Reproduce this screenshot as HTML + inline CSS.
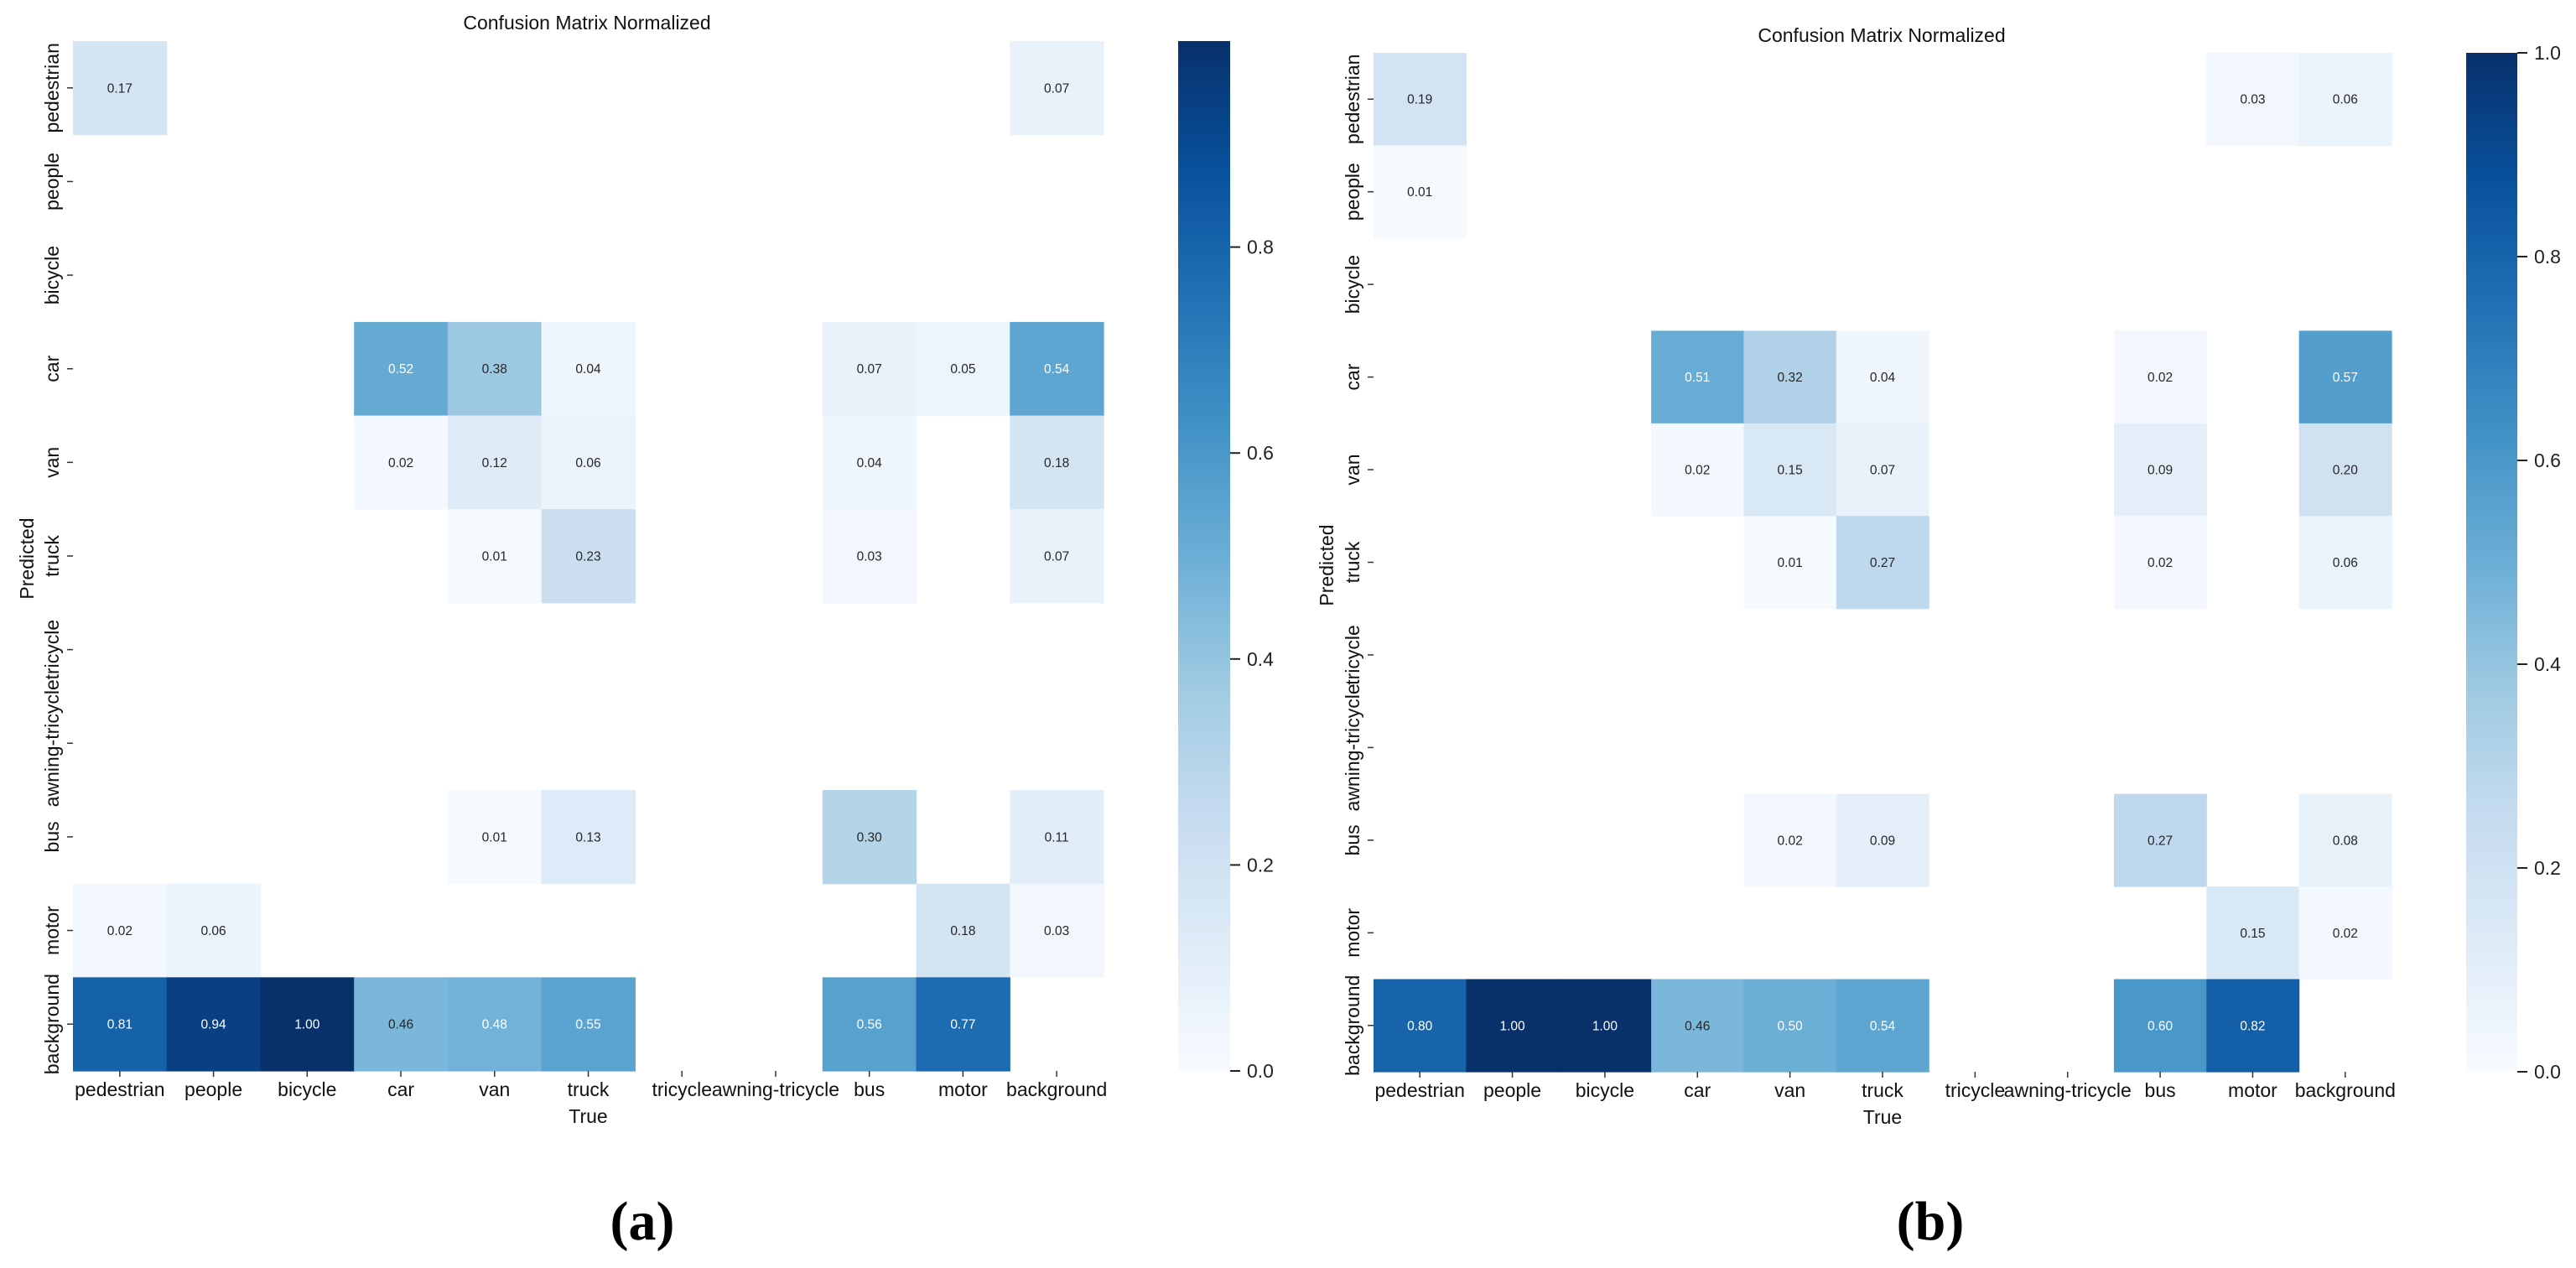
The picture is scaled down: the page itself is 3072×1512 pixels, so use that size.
<!DOCTYPE html>
<html><head><meta charset="utf-8"><style>
html,body{margin:0;padding:0;background:#fff;}
svg{display:block;font-family:"Liberation Sans",sans-serif;}
</style></head><body>
<svg id="fig" width="3072" height="1512" viewBox="0 0 3072 1512"></svg>
<script>
const classes = ["pedestrian","people","bicycle","car","van","truck","tricycle","awning-tricycle","bus","motor","background"];
const matrixA = [
 [0.17,0,0,0,0,0,0,0,0,0,0.07],
 [0,0,0,0,0,0,0,0,0,0,0],
 [0,0,0,0,0,0,0,0,0,0,0],
 [0,0,0,0.52,0.38,0.04,0,0,0.07,0.05,0.54],
 [0,0,0,0.02,0.12,0.06,0,0,0.04,0,0.18],
 [0,0,0,0,0.01,0.23,0,0,0.03,0,0.07],
 [0,0,0,0,0,0,0,0,0,0,0],
 [0,0,0,0,0,0,0,0,0,0,0],
 [0,0,0,0,0.01,0.13,0,0,0.30,0,0.11],
 [0.02,0.06,0,0,0,0,0,0,0,0.18,0.03],
 [0.81,0.94,1.00,0.46,0.48,0.55,0,0,0.56,0.77,0]
];
const matrixB = [
 [0.19,0,0,0,0,0,0,0,0,0.03,0.06],
 [0.01,0,0,0,0,0,0,0,0,0,0],
 [0,0,0,0,0,0,0,0,0,0,0],
 [0,0,0,0.51,0.32,0.04,0,0,0.02,0,0.57],
 [0,0,0,0.02,0.15,0.07,0,0,0.09,0,0.20],
 [0,0,0,0,0.01,0.27,0,0,0.02,0,0.06],
 [0,0,0,0,0,0,0,0,0,0,0],
 [0,0,0,0,0,0,0,0,0,0,0],
 [0,0,0,0,0.02,0.09,0,0,0.27,0,0.08],
 [0,0,0,0,0,0,0,0,0,0.15,0.02],
 [0.80,1.00,1.00,0.46,0.50,0.54,0,0,0.60,0.82,0]
];
const ticksA = [0,0.2,0.4,0.6,0.8];
const ticksB = [0,0.2,0.4,0.6,0.8,1.0];

const blues = ["#f7fbff","#deebf7","#c6dbef","#9ecae1","#6baed6","#4292c6","#2171b5","#08519c","#08306b"];
function hex(c){return [parseInt(c.slice(1,3),16),parseInt(c.slice(3,5),16),parseInt(c.slice(5,7),16)];}
function cmap(v){
  v=Math.max(0,Math.min(1,v));const p=v*8;const i=Math.min(7,Math.floor(p));const f=p-i;
  const a=hex(blues[i]),b=hex(blues[i+1]);
  return "rgb("+a.map((x,k)=>Math.round(x+(b[k]-x)*f)).join(",")+")";
}
const NS="http://www.w3.org/2000/svg";
const svg=document.getElementById("fig");
function el(tag,attrs,parent,text){const e=document.createElementNS(NS,tag);for(const k in attrs)e.setAttribute(k,attrs[k]);if(text!==undefined)e.textContent=text;(parent||svg).appendChild(e);return e;}

function drawPanel(p){
  const g=el("g",{});
  
  
  const n=classes.length, cw=(p.x1-p.x0)/n, ch=(p.y1-p.y0)/n;
  const xs=i=>p.x0+i*cw, ys=j=>p.y0+j*ch;
  p.data.forEach((row,r)=>row.forEach((v,c)=>{
    if(v<0.005) return;
    const rect=el("rect",{x:xs(c),y:ys(r),width:cw+0.6,height:ch+0.6,fill:cmap(v)},g);
    
    
    const t=el("text",{x:xs(c)+cw/2,y:ys(r)+ch/2+5.5,"text-anchor":"middle","font-size":"15.5",fill:v>=0.47?"#fff":"#262626"},g,v.toFixed(2));
    
    
  }));
  classes.forEach((c,i)=>{
    const cx=xs(i)+cw/2;
    el("line",{x1:cx,x2:cx,y1:p.y1,y2:p.y1+7,stroke:"#333","stroke-width":1.5},g);
    const t=el("text",{x:cx,y:p.y1+30,"text-anchor":"middle","font-size":"23",fill:"#111"},g,c);
    
    
    const cy=ys(i)+ch/2;
    el("line",{x1:p.x0-7,x2:p.x0,y1:cy,y2:cy,stroke:"#333","stroke-width":1.5},g);
    const ty=el("text",{x:p.ylx,y:cy,"text-anchor":"middle","font-size":"23",fill:"#111",transform:"rotate(-90 "+p.ylx+" "+cy+")","dominant-baseline":"central"},g,c);
    
    
  });
  const tt=el("text",{x:p.tx,y:p.ty,"text-anchor":"middle","font-size":"23",fill:"#111"},g,"Confusion Matrix Normalized");
  
  
  const xt=el("text",{x:(p.x0+p.x1)/2,y:p.y1+62,"text-anchor":"middle","font-size":"23",fill:"#111"},g,"True");
  
  
  const yt=el("text",{x:p.px,y:p.py,"text-anchor":"middle","font-size":"23",fill:"#111","dominant-baseline":"central",transform:"rotate(-90 "+p.px+" "+p.py+")"},g,"Predicted");
  
  
  const gid="grad"+p.name;
  const lg=el("linearGradient",{id:gid,x1:0,y1:1,x2:0,y2:0},g);
  for(let k=0;k<=16;k++){el("stop",{offset:k/16,"stop-color":cmap(k/16*p.vmax)},lg);}
  const cb=el("rect",{x:p.cbx,y:p.y0,width:p.cbw,height:p.y1-p.y0,fill:"url(#"+gid+")"},g);
  
  
  const cy=v=>p.y1-(v/p.vmax)*(p.y1-p.y0);
  p.ticks.forEach(v=>{
    el("line",{x1:p.cbx+p.cbw,x2:p.cbx+p.cbw+12,y1:cy(v),y2:cy(v),stroke:"#222","stroke-width":2},g);
    const t=el("text",{x:p.cbx+p.cbw+20,y:cy(v)+8,"font-size":"23",fill:"#222"},g,v.toFixed(1));
    
    
  });
  const cap=el("text",{x:p.capx,y:1478,"text-anchor":"middle","font-size":"66","font-weight":"bold","font-family":"Liberation Serif, serif",fill:"#000"},g,p.cap);
  
  
}
drawPanel({name:"panel-a",data:matrixA,ticks:ticksA,vmax:1.0,x0:87,x1:1316,y0:49,y1:1277,ylx:62,tx:700,ty:35,px:32,py:666,cbx:1405,cbw:62,capx:766,cap:"(a)"});
drawPanel({name:"panel-b",data:matrixB,ticks:ticksB,vmax:1.0,x0:1638,x1:2852,y0:63,y1:1278,ylx:1613,tx:2244,ty:50,px:1582,py:674,cbx:2941,cbw:61,capx:2302,cap:"(b)"});
</script>
</body></html>
